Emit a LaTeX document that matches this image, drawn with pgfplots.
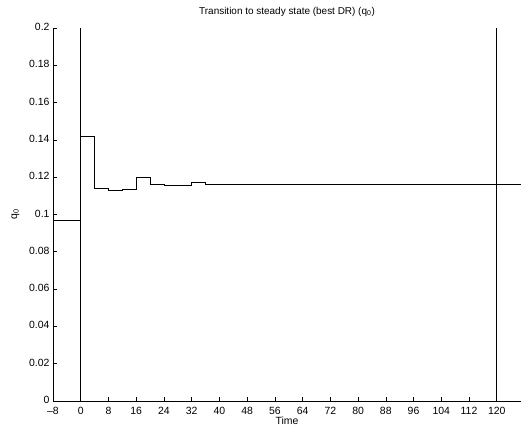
\documentclass[border=0pt]{standalone}
\usepackage{fontspec}
\setmainfont{Liberation Sans}
\usepackage{pgfplots}
\pgfplotsset{compat=1.18}
\begin{document}
\begin{tikzpicture}
\path[use as bounding box] (0,0) rectangle (528bp,432bp);
\begin{axis}[
  at={(53bp,31bp)}, anchor=south west,
  scale only axis, width=468bp, height=373bp,
  xmin=-8, xmax=127, ymin=0, ymax=0.2,
  axis x line*=bottom, axis y line*=left,
  tick align=inside, xtick pos=bottom, ytick pos=left,
  major tick length=4bp,
  xtick={-8,0,8,...,120},
  xticklabels={--8,0,8,16,24,32,40,48,56,64,72,80,88,96,104,112,120},
  ytick={0,0.02,...,0.2},
  yticklabels={0,0.02,0.04,0.06,0.08,0.1,0.12,0.14,0.16,0.18,0.2},
  /pgf/number format/assume math mode=true,
  tick label style={font=\fontsize{10.5}{12}\selectfont},
  xticklabel style={yshift=-2.5bp},
  yticklabel style={yshift=1bp},
  label style={font=\fontsize{10.5}{12}\selectfont},
  xlabel={Time},
  ylabel={q\textsubscript{0}},
  xlabel style={yshift=4bp},
  ylabel style={yshift=3bp},
  title={Transition to steady state (best DR) (q\textsubscript{0})},
  title style={font=\fontsize{10}{12}\selectfont, yshift=2bp},
  axis line style={line width=0.8pt},
  every tick/.style={line width=0.6pt, black},
]
\addplot[const plot mark left, black, line width=0.7pt] coordinates {
(-8,0.0968) (0,0.1418) (4,0.1138) (8,0.1127) (12,0.1136) (16,0.1200)
(20,0.1161) (24,0.1156) (32,0.1170) (36,0.1164) (40,0.1163) (127,0.1163)};
\addplot[black, line width=0.7pt] coordinates {(0,0) (0,0.2)};
\addplot[black, line width=0.7pt] coordinates {(120,0) (120,0.2)};
\end{axis}
\end{tikzpicture}
\end{document}
